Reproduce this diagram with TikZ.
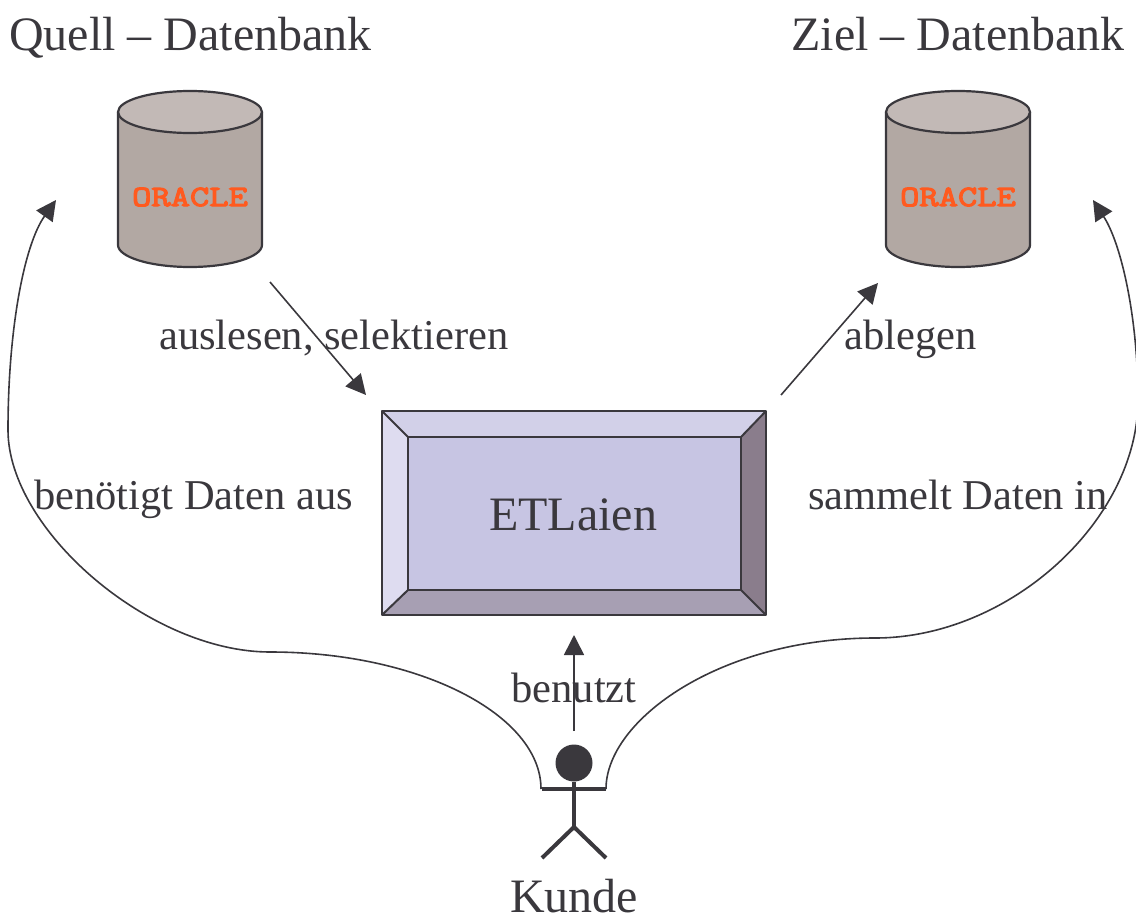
\documentclass[tikz,border=0pt]{standalone}
\usepackage{fontspec}
\setmainfont{Liberation Serif}
\newfontfamily\oraclefont[FakeBold=4,FakeStretch=1.27]{Latin Modern Mono}
\usetikzlibrary{arrows.meta}
\definecolor{ink}{HTML}{3A383D}
\definecolor{cylbody}{HTML}{B2A8A3}
\definecolor{cyltop}{HTML}{C2B9B6}
\definecolor{oracle}{HTML}{FF5A1F}
\definecolor{bevtop}{HTML}{D2D0E8}
\definecolor{bevleft}{HTML}{DEDCF0}
\definecolor{bevface}{HTML}{C7C5E3}
\definecolor{bevright}{HTML}{8A7D8C}
\definecolor{bevbottom}{HTML}{A79FB3}
\tikzset{
  x=1pt,y=-1pt,
  cylline/.style={draw=ink,line width=2.2pt,line join=round},
  database/.pic={
    \path[cylline,fill=cylbody] (-72,-67) -- (-72,66)
      .. controls (-72,78) and (-40,88) .. (0,88)
      .. controls (40,88) and (72,78) .. (72,66) -- (72,-67) -- cycle;
    \path[cylline,fill=cyltop] (0,-67) ellipse [x radius=72pt,y radius=21pt];
  },
  oracletext/.style={text=oracle,font=\oraclefont\fontsize{29.5}{30}\selectfont},
  head/.style={font=\fontsize{48}{52}\selectfont,text=ink,inner sep=0pt,anchor=base},
  lab/.style={font=\fontsize{42.5}{46}\selectfont,text=ink,inner sep=0pt,anchor=base},
  flow/.style={draw=ink,line width=1.6pt,-{Triangle[length=20pt,width=20pt]}},
  bevel/.style={draw=ink,line width=2pt,line join=round},
  limb/.style={draw=ink,line width=4pt},
}
\begin{document}
\begin{tikzpicture}
\useasboundingbox (0,0) rectangle (1136,916);
% databases
\pic at (190,179) {database};
\pic at (958,179) {database};
\node[oracletext] (srcname) at (190,197) {ORACLE};
\node[oracletext] (dstname) at (958,197) {ORACLE};
% bevelled box
\coordinate (onw) at (382,411); \coordinate (one) at (766,411);
\coordinate (ose) at (766,615); \coordinate (osw) at (382,615);
\coordinate (inw) at (408,437); \coordinate (ine) at (741,437);
\coordinate (ise) at (741,590); \coordinate (isw) at (408,590);
\fill[bevtop] (onw)--(one)--(ine)--(inw)--cycle;
\fill[bevleft] (onw)--(inw)--(isw)--(osw)--cycle;
\fill[bevright] (one)--(ose)--(ise)--(ine)--cycle;
\fill[bevbottom] (osw)--(isw)--(ise)--(ose)--cycle;
\draw[bevel,fill=bevface] (inw) rectangle (ise);
\draw[bevel] (onw) rectangle (ose);
\draw[bevel] (onw)--(inw) (one)--(ine) (ose)--(ise) (osw)--(isw);
\node[font=\fontsize{48}{52}\selectfont,text=ink,inner sep=0pt,anchor=base] (etl) at (573,530) {ETLaien};
% stick figure
\node[circle,fill=ink,minimum size=37pt,inner sep=0pt] (kopf) at (574,763) {};
\coordinate (armL) at (542,789); \coordinate (armR) at (606,789);
\coordinate (hip) at (574,827); \coordinate (legL) at (542,858); \coordinate (legR) at (606,858);
\draw[limb] (armL)--(armR);
\draw[limb] (kopf.south)--(hip);
\draw[limb] (legL)--(hip)--(legR);
% connectors
\coordinate (a1) at (270,282); \coordinate (a2) at (366,395);
\coordinate (b1) at (781,395); \coordinate (b2) at (878,283);
\coordinate (c1) at (574,731); \coordinate (c2) at (574,635);
\draw[flow] (a1)--(a2);
\draw[flow] (b1)--(b2);
\draw[flow] (c1)--(c2);
\coordinate (l0) at (541,789); \coordinate (l1) at (270,652); \coordinate (l2) at (8,430); \coordinate (l3) at (56,200);
\coordinate (r0) at (606,789); \coordinate (r1) at (875,638); \coordinate (r2) at (1138,400); \coordinate (r3) at (1093,200);
\draw[flow] (l0) .. controls (541,715) and (420,652) .. (l1)
  .. controls (150,652) and (8,530) .. (l2)
  .. controls (8,330) and (24,245) .. (l3);
\draw[flow] (r0) .. controls (606,720) and (720,638) .. (r1)
  .. controls (1010,638) and (1138,520) .. (r2)
  .. controls (1138,320) and (1122,245) .. (r3);
% texts
\node[head,anchor=base west] (t1) at (9,50) {Quell – Datenbank};
\node[head,anchor=base east] (t2) at (1125,50) {Ziel – Datenbank};
\node[lab,anchor=base west] (t3) at (159,349) {auslesen, selektieren};
\node[lab,anchor=base west] (t4) at (844,349) {ablegen};
\node[lab,anchor=base west] (t5) at (34,509) {benötigt Daten aus};
\node[lab,anchor=base east] (t6) at (1108,509) {sammelt Daten in};
\node[lab] (t7) at (574,702) {benutzt};
\node[head] (t8) at (574,912) {Kunde};
\end{tikzpicture}
\end{document}
